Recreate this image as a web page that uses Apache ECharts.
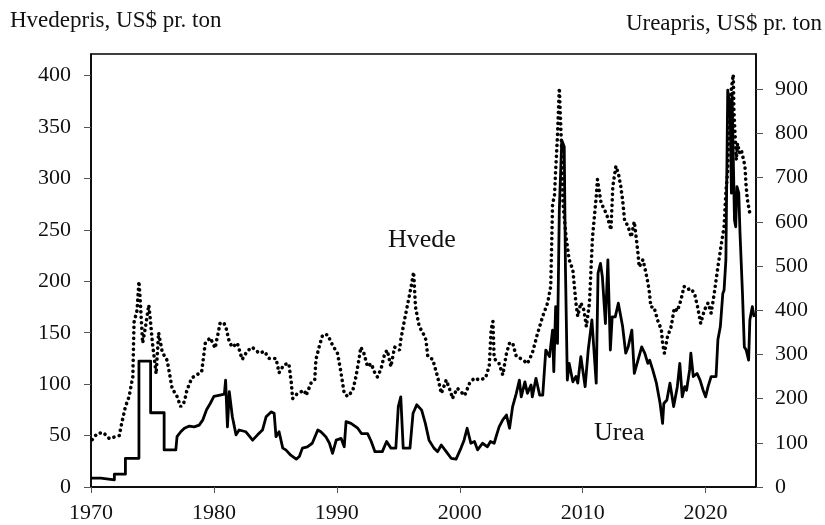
<!DOCTYPE html>
<html>
<head>
<meta charset="utf-8">
<script src="https://cdn.jsdelivr.net/npm/echarts@6/dist/echarts.min.js"></script>
<style>
  html, body { margin: 0; padding: 0; background: #fff; }
  #chart { width: 825px; height: 525px; }
</style>
</head>
<body>
<div id="chart"></div>
<script>
// wheat price, US$ per ton (left axis)
const wheatYears = [1970.1, 1970.5, 1971.0, 1971.5, 1972.0, 1972.3, 1972.5, 1972.8, 1973.1, 1973.4, 1973.5, 1973.75, 1973.9, 1974.0, 1974.2, 1974.4, 1974.7, 1974.8, 1975.0, 1975.3, 1975.5, 1975.8, 1976.2, 1976.6, 1977.0, 1977.3, 1977.6, 1977.8, 1978.2, 1979.0, 1979.3, 1979.7, 1980.1, 1980.5, 1980.8, 1981.0, 1981.25, 1981.5, 1981.9, 1982.3, 1982.7, 1983.1, 1983.4, 1983.7, 1984.1, 1984.5, 1985.05, 1985.3, 1985.7, 1986.1, 1986.3, 1986.4, 1986.8, 1987.35, 1987.5, 1987.9, 1988.2, 1988.3, 1988.6, 1988.85, 1989.25, 1989.65, 1990.05, 1990.3, 1990.6, 1990.9, 1991.3, 1991.55, 1991.8, 1991.95, 1992.2, 1992.5, 1992.8, 1993.05, 1993.3, 1993.6, 1993.9, 1994.1, 1994.4, 1994.7, 1995.1, 1995.2, 1995.5, 1995.75, 1996.0, 1996.25, 1996.4, 1996.7, 1997.0, 1997.25, 1997.4, 1997.8, 1998.2, 1998.5, 1998.9, 1999.3, 1999.4, 1999.8, 2000.4, 2000.8, 2001.2, 2001.6, 2002.1, 2002.4, 2002.55, 2002.7, 2002.8, 2003.2, 2003.5, 2003.8, 2004.05, 2004.3, 2004.6, 2005.1, 2005.5, 2005.9, 2006.3, 2006.75, 2007.15, 2007.4, 2007.55, 2007.7, 2007.8, 2007.95, 2008.1, 2008.25, 2008.4, 2008.65, 2008.9, 2009.2, 2009.45, 2009.6, 2009.85, 2010.1, 2010.3, 2010.55, 2010.8, 2011.1, 2011.2, 2011.5, 2011.8, 2012.0, 2012.3, 2012.45, 2012.7, 2012.9, 2013.1, 2013.25, 2013.4, 2013.7, 2013.95, 2014.2, 2014.35, 2014.5, 2014.6, 2014.9, 2015.15, 2015.4, 2015.55, 2015.8, 2016.1, 2016.4, 2016.5, 2016.65, 2016.9, 2017.2, 2017.45, 2017.7, 2018.0, 2018.25, 2018.55, 2018.8, 2019.1, 2019.35, 2019.6, 2019.9, 2020.2, 2020.45, 2020.7, 2021.0, 2021.25, 2021.5, 2021.65, 2021.8, 2021.9, 2022.05, 2022.25, 2022.3, 2022.5, 2022.6, 2022.75, 2022.9, 2023.2, 2023.3, 2023.4, 2023.6];
const wheatPrice = [46, 52, 53, 47, 49, 50, 62, 78, 88, 107, 160, 172, 200, 183, 140, 153, 177, 166, 140, 110, 150, 131, 123, 96, 88, 78, 83, 94, 106, 112, 140, 145, 135, 159, 160, 154, 141, 136, 140, 124, 132, 136, 133, 130, 132, 125, 125, 111, 119, 120, 101, 86, 91, 94, 89, 101, 104, 124, 138, 148, 148, 138, 130, 114, 91, 88, 94, 107, 124, 136, 130, 117, 120, 112, 107, 115, 130, 133, 117, 136, 133, 143, 162, 177, 192, 209, 175, 156, 150, 143, 127, 124, 107, 91, 104, 91, 86, 96, 89, 101, 106, 104, 106, 118, 153, 161, 125, 120, 109, 130, 140, 140, 127, 124, 120, 130, 148, 166, 179, 195, 276, 282, 308, 341, 388, 341, 276, 243, 221, 211, 179, 166, 179, 172, 156, 179, 243, 282, 299, 276, 269, 263, 250, 292, 312, 305, 292, 279, 260, 253, 243, 258, 243, 227, 214, 221, 208, 192, 175, 175, 162, 153, 140, 130, 146, 156, 174, 171, 182, 195, 192, 193, 188, 175, 159, 172, 179, 169, 188, 214, 234, 253, 286, 308, 350, 383, 401, 367, 318, 334, 325, 328, 312, 292, 279, 266];

// urea price, US$ per ton (right axis)
const ureaYears = [1970.0, 1970.8, 1970.8, 1971.9, 1971.9, 1972.8, 1972.8, 1973.9, 1973.9, 1974.85, 1974.85, 1975.95, 1975.95, 1976.9, 1977.0, 1977.3, 1977.6, 1978.0, 1978.4, 1978.8, 1979.1, 1979.4, 1979.7, 1980.0, 1980.5, 1980.85, 1980.95, 1981.1, 1981.25, 1981.5, 1981.8, 1982.05, 1982.6, 1983.15, 1983.55, 1983.95, 1984.25, 1984.65, 1984.9, 1985.05, 1985.3, 1985.6, 1985.85, 1986.25, 1986.7, 1986.95, 1987.2, 1987.6, 1988.0, 1988.45, 1988.7, 1989.1, 1989.4, 1989.65, 1989.95, 1990.35, 1990.6, 1990.75, 1991.15, 1991.7, 1992.0, 1992.5, 1992.8, 1993.1, 1993.7, 1994.05, 1994.4, 1994.8, 1995.0, 1995.2, 1995.4, 1995.95, 1996.2, 1996.5, 1996.9, 1997.2, 1997.5, 1997.9, 1998.2, 1998.5, 1998.9, 1999.3, 1999.7, 2000.1, 2000.35, 2000.6, 2000.9, 2001.2, 2001.45, 2001.85, 2002.25, 2002.5, 2002.8, 2003.0, 2003.2, 2003.5, 2003.8, 2004.05, 2004.3, 2004.6, 2004.85, 2005.0, 2005.3, 2005.5, 2005.8, 2005.9, 2006.2, 2006.5, 2006.75, 2007.0, 2007.3, 2007.55, 2007.65, 2007.8, 2007.95, 2008.1, 2008.3, 2008.5, 2008.6, 2008.75, 2008.9, 2009.2, 2009.45, 2009.6, 2009.85, 2010.2, 2010.45, 2010.75, 2011.1, 2011.25, 2011.45, 2011.6, 2011.85, 2012.05, 2012.25, 2012.4, 2012.65, 2012.9, 2013.25, 2013.5, 2013.7, 2014.0, 2014.2, 2014.5, 2014.8, 2015.05, 2015.3, 2015.45, 2015.7, 2016.0, 2016.2, 2016.3, 2016.5, 2016.6, 2016.85, 2017.1, 2017.4, 2017.7, 2017.9, 2018.1, 2018.3, 2018.45, 2018.7, 2018.8, 2019.0, 2019.3, 2019.55, 2019.8, 2020.0, 2020.2, 2020.45, 2020.85, 2021.0, 2021.2, 2021.4, 2021.5, 2021.65, 2021.8, 2022.0, 2022.1, 2022.15, 2022.35, 2022.45, 2022.55, 2022.7, 2022.8, 2023.0, 2023.15, 2023.3, 2023.5, 2023.6, 2023.8, 2023.95];
const ureaPrice = [20, 20, 16, 16, 29, 29, 65, 65, 285, 285, 168, 168, 84, 84, 114, 125, 133, 138, 136, 140, 152, 175, 189, 205, 208, 210, 242, 136, 216, 159, 118, 129, 125, 106, 118, 129, 159, 170, 167, 114, 125, 88, 84, 72, 63, 69, 88, 91, 99, 129, 125, 114, 99, 76, 106, 110, 91, 148, 144, 133, 121, 121, 103, 80, 80, 103, 88, 88, 182, 204, 88, 88, 167, 186, 174, 144, 106, 88, 80, 95, 80, 65, 63, 88, 106, 133, 99, 103, 84, 99, 91, 103, 99, 118, 136, 152, 163, 133, 182, 212, 242, 204, 238, 212, 231, 204, 246, 208, 208, 310, 295, 355, 261, 408, 325, 627, 785, 770, 491, 242, 280, 238, 250, 235, 295, 227, 310, 378, 235, 484, 506, 476, 370, 514, 310, 385, 385, 416, 363, 303, 317, 355, 257, 287, 317, 303, 280, 287, 265, 235, 204, 189, 144, 189, 197, 235, 182, 227, 280, 204, 227, 219, 265, 303, 250, 257, 242, 219, 204, 227, 250, 250, 333, 363, 438, 445, 514, 898, 853, 665, 891, 604, 589, 680, 665, 574, 438, 317, 310, 287, 378, 408, 385];

const decadeTicks = [1970, 1980, 1990, 2000, 2010, 2020];

const font = '"Liberation Serif", "Times New Roman", serif';
const ink = '#111';

const chart = echarts.init(document.getElementById('chart'), null, { renderer: 'canvas' });

function pairs(xs, ys) {
  return xs.map((x, i) => [x, ys[i]]);
}

const option = {
  animation: false,
  backgroundColor: '#fff',
  grid: {
    left: 91, right: 69, top: 54, bottom: 38,
    show: true, borderColor: '#000', borderWidth: 1.5
  },
  xAxis: {
    type: 'value',
    min: 1970, max: 2024.1, interval: 10,
    axisLine: { lineStyle: { color: '#000', width: 1.5 } },
    axisTick: { show: true, length: 6, lineStyle: { color: '#555' } },
    axisLabel: {
      fontFamily: font, fontSize: 22, color: ink, margin: 15,
      showMaxLabel: false,
      formatter: v => decadeTicks.includes(v) ? String(v) : ''
    },
    splitLine: { show: false }
  },
  yAxis: [
    {
      type: 'value', position: 'left',
      min: 0, max: 421, interval: 50,
      axisLine: { show: true, lineStyle: { color: '#000', width: 1.5 } },
      axisTick: { show: true, length: 7, lineStyle: { color: '#555' } },
      axisLabel: {
        fontFamily: font, fontSize: 22, color: ink, margin: 20,
        showMaxLabel: false,
        formatter: v => v % 50 === 0 ? String(v) : ''
      },
      splitLine: { show: false }
    },
    {
      type: 'value', position: 'right',
      min: 0, max: 980, interval: 100,
      axisLine: { show: true, lineStyle: { color: '#000', width: 1.5 } },
      axisTick: { show: true, length: 7, lineStyle: { color: '#555' } },
      axisLabel: {
        fontFamily: font, fontSize: 22, color: ink, margin: 19,
        showMaxLabel: false,
        formatter: v => v % 100 === 0 ? String(v) : ''
      },
      splitLine: { show: false }
    }
  ],
  series: [
    {
      name: 'Hvede',
      type: 'line',
      yAxisIndex: 0,
      showSymbol: false,
      data: pairs(wheatYears, wheatPrice),
      lineStyle: { color: '#000', width: 3.6, type: [0.1, 5.4], cap: 'round' }
    },
    {
      name: 'Urea',
      type: 'line',
      yAxisIndex: 1,
      showSymbol: false,
      data: pairs(ureaYears, ureaPrice),
      lineStyle: { color: '#000', width: 2.8, join: 'round' }
    }
  ],
  graphic: [
    { type: 'text', left: 10, top: 9, style: { text: 'Hvedepris, US$ pr. ton', font: '23px ' + font, fill: ink } },
    { type: 'text', right: 3, top: 12, style: { text: 'Ureapris, US$ pr. ton', font: '23px ' + font, fill: ink } },
    { type: 'text', left: 388, top: 227, style: { text: 'Hvede', font: '26px ' + font, fill: ink } },
    { type: 'text', left: 594, top: 420, style: { text: 'Urea', font: '26px ' + font, fill: ink } }
  ]
};

chart.setOption(option);
</script>
</body>
</html>
